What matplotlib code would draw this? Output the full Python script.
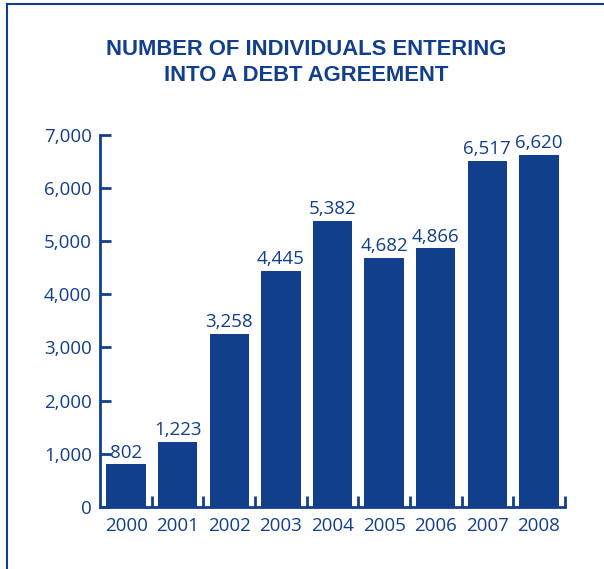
import numpy as np
import matplotlib.pyplot as plt
from matplotlib.lines import Line2D

years = ['2000', '2001', '2002', '2003', '2004', '2005', '2006', '2007', '2008']
counts = [802, 1223, 3258, 4445, 5382, 4682, 4866, 6517, 6620]
yticks = [0, 1000, 2000, 3000, 4000, 5000, 6000, 7000]

blue = '#123f8c'

fig = plt.figure(figsize=(6.04, 5.69), dpi=100)
ax = fig.add_axes([0.166, 0.109, 0.769, 0.654])

x = np.arange(len(years))
ax.bar(x, counts, width=0.76, color=blue)
for xi, c in zip(x, counts):
    ax.text(xi, c + 50, f'{c:,}', ha='center', va='bottom', color=blue,
            fontsize=13.5, family='Open Sans')

ax.set_xlim(-0.5, len(years) - 0.5)
ax.set_ylim(0, 7000)
ax.set_yticks(yticks)
ax.set_yticklabels([f'{v:,}' for v in yticks], color=blue, fontsize=13.5, family='Open Sans')
ax.set_xticks(x)
ax.set_xticklabels(years, color=blue, fontsize=13.5, family='Open Sans')
ax.tick_params(axis='x', length=0, pad=7)
ax.tick_params(axis='y', direction='in', length=8, width=2, color=blue, pad=6)
# separators between categories on x axis
ax.set_xticks(np.arange(len(years)) + 0.5, minor=True)
ax.tick_params(axis='x', which='minor', direction='in', length=8, width=2, color=blue)

for s in ['top', 'right']:
    ax.spines[s].set_visible(False)
for s in ['left', 'bottom']:
    ax.spines[s].set_color(blue)
    ax.spines[s].set_linewidth(2)

fig.text(0.507, 0.890, 'NUMBER OF INDIVIDUALS ENTERING\nINTO A DEBT AGREEMENT',
         ha='center', va='center', color=blue, fontsize=15.8, fontweight='bold',
         family='Liberation Sans', linespacing=1.33)

# frame on left and top
fig.add_artist(Line2D([0.011, 0.011], [0, 0.993], color=blue, lw=1.5, transform=fig.transFigure))
fig.add_artist(Line2D([0.011, 1.0], [0.993, 0.993], color=blue, lw=1.5, transform=fig.transFigure))

fig.savefig('out.png', dpi=100)
